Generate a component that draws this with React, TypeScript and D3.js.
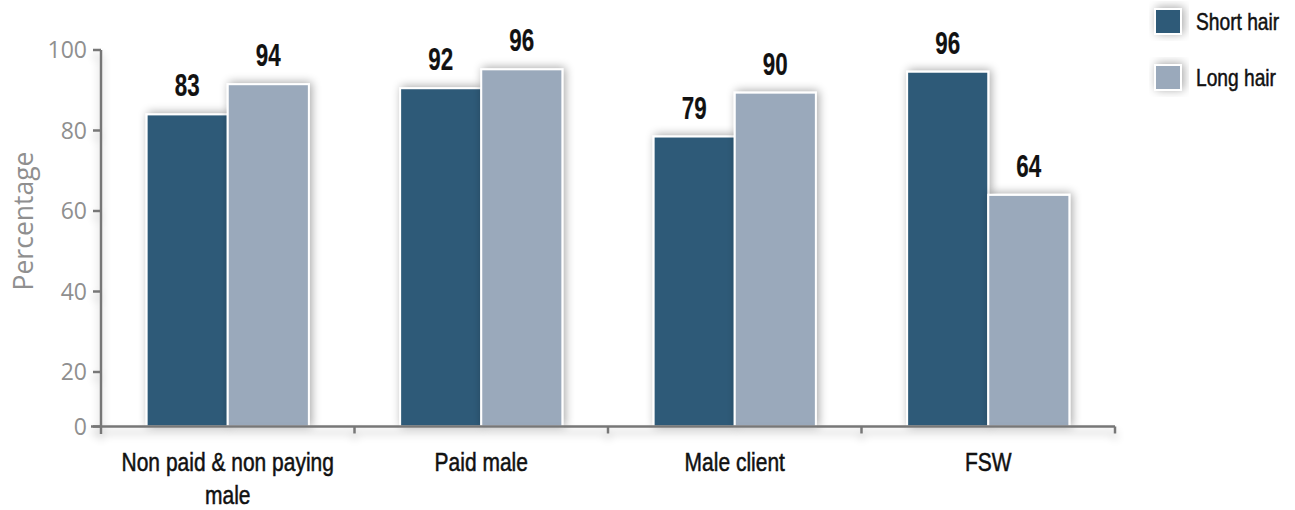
import React from "react";
import * as d3 from "d3";

const categories = ["Non paid & non paying male", "Paid male", "Male client", "FSW"];
const seriesNames = ["Short hair", "Long hair"];
// bar heights as drawn
const shortHair = [84, 90.5, 78.5, 94.6];
const longHair = [91.5, 95.2, 89.4, 64];
// value labels as printed above the bars
const shortHairLabels = [83, 92, 79, 96];
const longHairLabels = [94, 96, 90, 64];
const yTicks = [0, 20, 40, 60, 80, 100];
const colors = ["#2d5a78", "#9aa9bb"];

const width = 1295;
const height = 510;
const narrowFont = "'Liberation Sans', Arial, sans-serif";
const tickFont = "'Open Sans', 'Noto Sans', sans-serif";

// condensed look: squeeze a normal sans horizontally
const Narrow: React.FC<{
  x: number;
  y: number;
  size: number;
  sx?: number;
  anchor?: "start" | "middle" | "end";
  bold?: boolean;
  children: React.ReactNode;
}> = ({ x, y, size, sx = 0.8, anchor = "start", bold = false, children }) => (
  <g transform={`translate(${x},${y}) scale(${sx},1)`}>
    <text
      textAnchor={anchor}
      fontFamily={narrowFont}
      fontWeight={bold ? "bold" : "normal"}
      fontSize={size}
      fill="#111"
      stroke="#111"
      strokeWidth={bold ? 0.2 : 0.5}
    >
      {children}
    </text>
  </g>
);

const App: React.FC = () => {
  const x0 = d3
    .scaleBand<string>()
    .domain(categories)
    .range([101, 1115])
    .paddingInner(0.36)
    .paddingOuter(0.18);
  const x1 = d3.scaleBand<string>().domain(seriesNames).range([0, x0.bandwidth()]).padding(0);
  // the first interval of the axis is squeezed in the original
  const y = d3.scaleLinear().domain([0, 20, 100]).range([426.5, 372, 50]);

  const series = [
    { name: seriesNames[0], values: shortHair, labels: shortHairLabels },
    { name: seriesNames[1], values: longHair, labels: longHairLabels },
  ];

  const step = x0.step();
  const boundaries = categories.map((c) => (x0(c) as number) - x0.paddingOuter() * step);
  boundaries.push(1115);

  const wrap = (s: string) => (s.length > 14 ? ["Non paid & non paying", "male"] : [s]);

  return (
    <svg width={width} height={height} style={{ position: "absolute", left: 0, top: 0 }}>
      <defs>
        <filter id="shadow" x="-30%" y="-30%" width="160%" height="160%">
          <feGaussianBlur in="SourceAlpha" stdDeviation="5" />
          <feOffset dx="2" dy="-1" result="b" />
          <feComponentTransfer>
            <feFuncA type="linear" slope="0.35" />
          </feComponentTransfer>
          <feMerge>
            <feMergeNode />
            <feMergeNode in="SourceGraphic" />
          </feMerge>
        </filter>
        <filter id="axisShadow" x="-5%" y="-100%" width="110%" height="400%">
          <feGaussianBlur in="SourceAlpha" stdDeviation="4" />
          <feOffset dx="0" dy="6" />
          <feComponentTransfer>
            <feFuncA type="linear" slope="0.25" />
          </feComponentTransfer>
          <feMerge>
            <feMergeNode />
            <feMergeNode in="SourceGraphic" />
          </feMerge>
        </filter>
      </defs>

      {/* bars */}
      {series.map((s, si) =>
        categories.map((c, ci) => (
          <rect
            key={`${si}-${ci}`}
            x={(x0(c) as number) + (x1(s.name) as number)}
            y={y(s.values[ci])}
            width={x1.bandwidth()}
            height={y(0) - y(s.values[ci])}
            fill={colors[si]}
            stroke="#fff"
            strokeWidth={2}
            filter="url(#shadow)"
          />
        ))
      )}

      {/* value labels */}
      {series.map((s, si) =>
        categories.map((c, ci) => (
          <Narrow
            key={`l-${si}-${ci}`}
            x={(x0(c) as number) + (x1(s.name) as number) + x1.bandwidth() / 2}
            y={y(s.values[ci]) - 18}
            size={32}
            sx={0.7}
            anchor="middle"
            bold
          >
            {s.labels[ci]}
          </Narrow>
        ))
      )}

      {/* axes */}
      <g filter="url(#axisShadow)" stroke="#777" strokeWidth={2.5} fill="none">
        <line x1={91} x2={1115} y1={y(0)} y2={y(0)} />
        <line x1={101} x2={101} y1={y(100)} y2={434} />
        {yTicks.map((t) => (
          <line key={t} x1={93} x2={101} y1={y(t)} y2={y(t)} />
        ))}
        {boundaries.slice(1).map((b, i) => (
          <line key={i} x1={b} x2={b} y1={y(0)} y2={y(0) + 7} />
        ))}
      </g>

      {yTicks.map((t) => (
        <text
          key={`t-${t}`}
          x={87}
          y={y(t)}
          dy="0.35em"
          textAnchor="end"
          fontFamily={tickFont}
          fontSize={23}
          fill="#8f8f8f"
        >
          {t}
        </text>
      ))}

      <text
        transform={`translate(33,221) rotate(-90)`}
        textAnchor="middle"
        fontFamily={tickFont}
        fontSize={26.5}
        fill="#8f8f8f"
      >
        Percentage
      </text>

      {/* category labels */}
      {categories.map((c) =>
        wrap(c).map((line, i) => (
          <Narrow
            key={`${c}-${i}`}
            x={(x0(c) as number) + x0.bandwidth() / 2}
            y={471 + i * 33}
            size={25}
            sx={0.84}
            anchor="middle"
          >
            {line}
          </Narrow>
        ))
      )}

      {/* legend */}
      {seriesNames.map((n, i) => (
        <g key={n} transform={`translate(1155,${9 + i * 56})`}>
          <rect width={26} height={25} fill={colors[i]} stroke="#fff" strokeWidth={2} filter="url(#shadow)" />
          <Narrow x={41} y={21} size={24} sx={0.8}>
            {n}
          </Narrow>
        </g>
      ))}
    </svg>
  );
};

export default App;
